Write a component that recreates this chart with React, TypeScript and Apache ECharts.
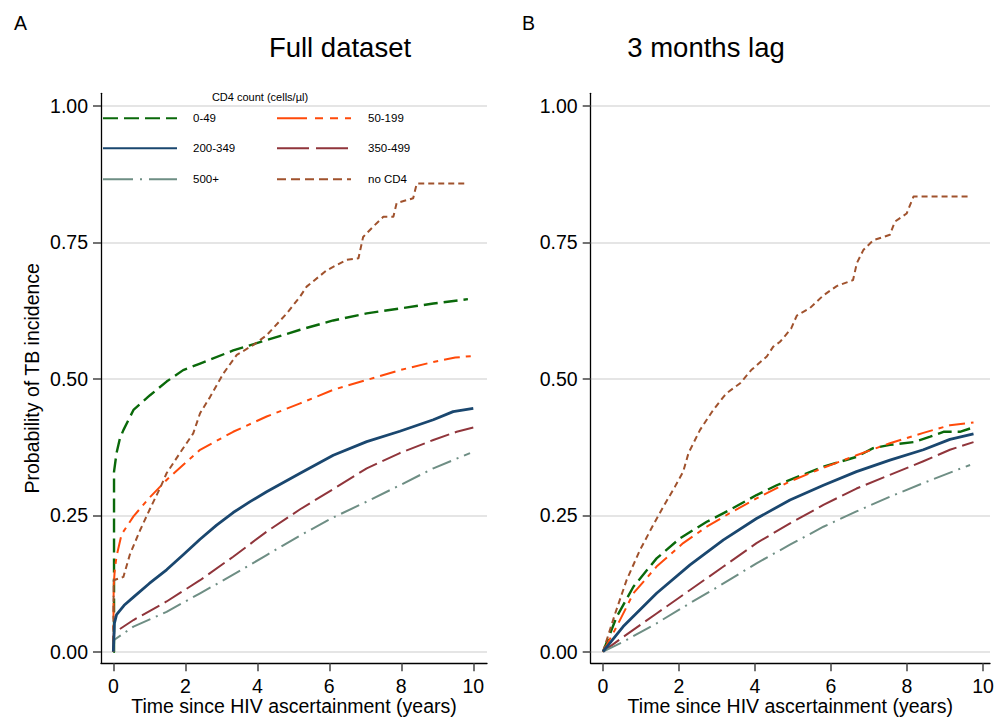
import React, { useEffect, useRef } from 'react';
import * as echarts from 'echarts';

const FONT = '"Liberation Sans", Arial, Helvetica, sans-serif';

const xTicks = [0, 2, 4, 6, 8, 10];
const yTicks = [0, 0.25, 0.5, 0.75, 1];

const panelTitles = ['Full dataset', '3 months lag'];
const panelLetters = ['A', 'B'];
const legendTitle = 'CD4 count (cells/µl)';
const groups = ['0-49', '50-199', '200-349', '350-499', '500+', 'no CD4'];
const groupColors = ['#0a690a', '#ff4a0a', '#1a476f', '#90353b', '#6e8e84', '#a0522d'];

// Panel A: full dataset  [time (years), probability]
const full_0_49 = [[0, 0], [0.02, 0.0], [0.02, 0.33], [0.09, 0.364], [0.18, 0.39], [0.28, 0.406], [0.56, 0.443], [1.02, 0.47], [1.48, 0.495], [1.94, 0.516], [2.41, 0.528], [3.33, 0.552], [4.26, 0.571], [5.19, 0.59], [6.11, 0.607], [7.04, 0.62], [7.96, 0.629], [8.89, 0.638], [9.85, 0.646]];
const full_50_199 = [[0, 0], [0.01, 0.12], [0.04, 0.15], [0.09, 0.175], [0.23, 0.215], [0.56, 0.248], [1.0, 0.282], [1.5, 0.316], [2.41, 0.37], [3.33, 0.403], [4.26, 0.431], [5.19, 0.455], [6.11, 0.48], [7.04, 0.498], [7.96, 0.516], [8.89, 0.531], [9.5, 0.539], [10.0, 0.542]];
const full_200_349 = [[0, 0], [0.02, 0.03], [0.03, 0.052], [0.09, 0.068], [0.3, 0.085], [0.56, 0.1], [1.0, 0.125], [1.48, 0.15], [1.95, 0.178], [2.41, 0.206], [2.87, 0.232], [3.33, 0.255], [3.8, 0.275], [4.26, 0.293], [5.19, 0.327], [6.11, 0.36], [7.04, 0.385], [7.96, 0.404], [8.89, 0.425], [9.44, 0.44], [10.0, 0.446]];
const full_350_499 = [[0, 0], [0.01, 0.034], [0.56, 0.058], [1.48, 0.092], [2.41, 0.131], [3.33, 0.174], [4.26, 0.22], [5.19, 0.261], [6.11, 0.298], [7.04, 0.336], [7.96, 0.364], [8.89, 0.388], [9.54, 0.403], [10.0, 0.411]];
const full_500 = [[0, 0], [0.01, 0.021], [0.56, 0.046], [1.48, 0.073], [2.41, 0.107], [3.33, 0.141], [4.26, 0.177], [5.19, 0.213], [6.11, 0.246], [7.04, 0.275], [7.96, 0.305], [8.89, 0.336], [9.91, 0.364]];
const full_noCD4 = [[0, 0], [0.01, 0.131], [0.28, 0.137], [0.46, 0.178], [0.74, 0.222], [1.02, 0.262], [1.3, 0.3], [1.48, 0.327], [1.85, 0.364], [2.22, 0.4], [2.41, 0.437], [2.69, 0.467], [3.06, 0.51], [3.43, 0.544], [3.89, 0.562], [4.26, 0.58], [4.82, 0.62], [5.19, 0.651], [5.37, 0.669], [5.93, 0.699], [6.48, 0.718], [6.81, 0.721], [6.94, 0.76], [7.22, 0.779], [7.5, 0.797], [7.78, 0.797], [7.87, 0.822], [8.33, 0.831], [8.43, 0.858], [9.82, 0.858]];

// Panel B: 3 months lag
const lag_0_49 = [[0, 0], [0.36, 0.064], [0.8, 0.119], [1.41, 0.171], [2.03, 0.208], [2.73, 0.238], [3.34, 0.26], [4.04, 0.287], [4.57, 0.305], [5.36, 0.327], [5.8, 0.339], [6.67, 0.357], [7.11, 0.373], [7.55, 0.379], [8.17, 0.384], [8.61, 0.394], [8.96, 0.403], [9.39, 0.403], [9.66, 0.409]];
const lag_50_199 = [[0, 0], [0.36, 0.046], [0.8, 0.107], [1.41, 0.156], [2.11, 0.199], [2.73, 0.229], [3.34, 0.254], [4.04, 0.281], [4.92, 0.312], [5.8, 0.337], [6.67, 0.36], [7.55, 0.382], [8.43, 0.401], [9.13, 0.415], [9.75, 0.42]];
const lag_200_349 = [[0, 0], [0.53, 0.046], [1.41, 0.107], [2.29, 0.159], [3.17, 0.205], [4.04, 0.244], [4.92, 0.278], [5.8, 0.305], [6.67, 0.33], [7.55, 0.351], [8.43, 0.37], [9.13, 0.389], [9.75, 0.399]];
const lag_350_499 = [[0, 0], [0.53, 0.027], [1.41, 0.07], [2.29, 0.113], [3.17, 0.156], [4.04, 0.199], [4.92, 0.235], [5.8, 0.269], [6.67, 0.299], [7.55, 0.324], [8.43, 0.349], [9.13, 0.37], [9.75, 0.384]];
const lag_500 = [[0, 0], [0.53, 0.018], [1.41, 0.052], [2.29, 0.089], [3.17, 0.125], [4.04, 0.162], [4.92, 0.196], [5.8, 0.229], [6.67, 0.257], [7.55, 0.284], [8.43, 0.309], [9.31, 0.333], [9.66, 0.342]];
const lag_noCD4 = [[0, 0], [0.32, 0.07], [0.62, 0.131], [0.97, 0.186], [1.32, 0.232], [1.59, 0.266], [1.89, 0.302], [2.11, 0.33], [2.25, 0.364], [2.55, 0.406], [2.9, 0.443], [3.17, 0.467], [3.26, 0.474], [3.61, 0.492], [3.9, 0.516], [4.31, 0.541], [4.48, 0.559], [4.66, 0.568], [4.95, 0.592], [5.1, 0.616], [5.45, 0.63], [5.8, 0.653], [6.15, 0.67], [6.58, 0.681], [6.68, 0.712], [6.85, 0.736], [7.11, 0.754], [7.55, 0.764], [7.68, 0.788], [7.99, 0.803], [8.17, 0.834], [9.61, 0.834]];

const fullData = [full_0_49, full_50_199, full_200_349, full_350_499, full_500, full_noCD4];
const lagData = [lag_0_49, lag_50_199, lag_200_349, lag_350_499, lag_500, lag_noCD4];

// line styles
const plotDash: any[] = [[14, 6], [16, 6, 5, 6], 'solid', [20, 6], [20, 6, 2, 6], [6, 4]];
const plotWidth = [2.4, 2, 2.8, 2, 2, 2];
const legendDash: any[] = [[15, 6], [30, 8, 8, 7, 8, 7], null, [32, 7], [30, 7, 2, 7], [9, 5]];
const legendWidth = [2, 2, 2, 2, 2, 2];

function buildOption() {
  const axisText = { fontFamily: FONT, fontSize: 19.5, color: '#000', lineHeight: 17 };
  const grids = [
    { left: 101, top: 93.3, width: 386, height: 570, outerBoundsMode: 'none', containLabel: false },
    { left: 590.7, top: 93.3, width: 399.3, height: 570, outerBoundsMode: 'none', containLabel: false },
  ];
  const xRanges = [[-0.342, 10.381], [-0.324, 10.184]];
  const xAxes = grids.map((_, i) => ({
    type: 'value',
    gridIndex: i,
    min: xRanges[i][0],
    max: xRanges[i][1],
    axisLine: { show: true, onZero: false, lineStyle: { color: '#000', width: 1.3 } },
    axisTick: { show: true, length: 8, customValues: xTicks, lineStyle: { color: '#444', width: 1.5 } },
    axisLabel: { customValues: xTicks, margin: 14.5, ...axisText },
    splitLine: { show: false },
    name: 'Time since HIV ascertainment (years)',
    nameLocation: 'middle',
    nameGap: 34.5,
    nameMoveOverlap: false,
    nameTextStyle: axisText,
  }));
  const yAxes = grids.map((_, i) => ({
    type: 'value',
    gridIndex: i,
    min: -0.0213,
    max: 1.0233,
    axisLine: { show: true, onZero: false, lineStyle: { color: '#000', width: 1.3 } },
    axisTick: { show: true, length: 8, customValues: yTicks, lineStyle: { color: '#444', width: 1.5 } },
    axisLabel: { customValues: yTicks, margin: 13, formatter: (v: number) => v.toFixed(2), ...axisText },
    splitLine: { show: true, lineStyle: { color: '#dcdcdc', width: 1.5 } },
    name: i === 0 ? 'Probability of TB incidence' : '',
    nameLocation: 'middle',
    nameGap: 61,
    nameMoveOverlap: false,
    nameTextStyle: axisText,
  }));

  const series: any[] = [];
  [fullData, lagData].forEach((panel, p) => {
    panel.forEach((d, k) => {
      series.push({
        type: 'line',
        name: groups[k],
        xAxisIndex: p,
        yAxisIndex: p,
        data: d,
        showSymbol: false,
        symbol: 'none',
        smooth: false,
        silent: true,
        z: k === 2 ? 3 : 2,
        lineStyle: { color: groupColors[k], width: plotWidth[k], type: plotDash[k], cap: 'butt', join: 'round' },
      });
    });
  });

  const graphic: any[] = [];
  panelLetters.forEach((t, i) => {
    graphic.push({
      type: 'text', x: i === 0 ? 14 : 522, y: 23,
      style: { text: t, fontFamily: FONT, fontSize: 19.5, fill: '#000', align: 'left', verticalAlign: 'middle' },
    });
  });
  panelTitles.forEach((t, i) => {
    graphic.push({
      type: 'text', x: i === 0 ? 340 : 706, y: 47.5,
      style: { text: t, fontFamily: FONT, fontSize: 27.5, fill: '#000', align: 'center', verticalAlign: 'middle' },
    });
  });
  graphic.push({
    type: 'text', x: 260, y: 97,
    style: { text: legendTitle, fontFamily: FONT, fontSize: 11, fill: '#000', align: 'center', verticalAlign: 'middle' },
  });
  const rowsY = [118.3, 148.3, 179.3];
  const colX = [[103, 177, 193], [277, 351, 368]];
  groups.forEach((g, k) => {
    const row = Math.floor(k / 2);
    const col = k % 2;
    const y = rowsY[row];
    graphic.push({
      type: 'line',
      shape: { x1: colX[col][0], y1: y, x2: colX[col][1], y2: y },
      style: { stroke: groupColors[k], lineWidth: legendWidth[k], lineDash: legendDash[k] || undefined, lineCap: 'butt' },
    });
    graphic.push({
      type: 'text', x: colX[col][2], y,
      style: { text: g, fontFamily: FONT, fontSize: 11.5, fill: '#000', align: 'left', verticalAlign: 'middle' },
    });
  });

  return {
    animation: false,
    backgroundColor: '#ffffff',
    grid: grids,
    xAxis: xAxes,
    yAxis: yAxes,
    series,
    graphic,
  };
}

export default function App() {
  const ref = useRef<HTMLDivElement>(null);
  useEffect(() => {
    const chart = echarts.init(ref.current as HTMLDivElement, null, { renderer: 'svg' });
    chart.setOption(buildOption() as any);
    return () => chart.dispose();
  }, []);
  return (
    <div
      ref={ref}
      style={{ position: 'fixed', left: 0, top: 0, width: 995, height: 720, background: '#fff' }}
    />
  );
}
